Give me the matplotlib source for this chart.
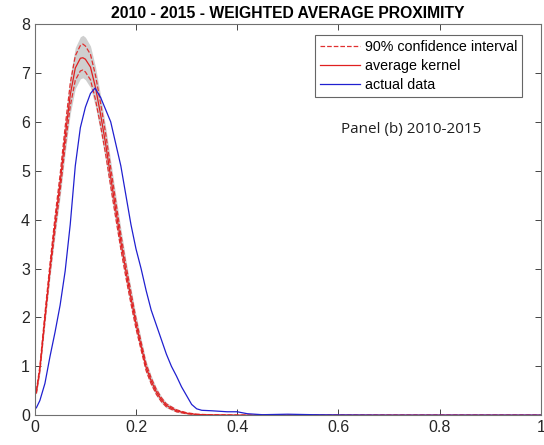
import matplotlib
matplotlib.use("Agg")
import matplotlib.pyplot as plt

plt.rcParams['font.family'] = ['Liberation Sans', 'DejaVu Sans']

# kernel estimate (average of simulated kernels) and its 90% band
kx = [0.003, 0.01, 0.02, 0.03, 0.04, 0.05, 0.06, 0.07, 0.08, 0.09, 0.095, 0.10,
      0.11, 0.12, 0.13, 0.14, 0.15, 0.16, 0.17, 0.18, 0.19, 0.20, 0.21, 0.22,
      0.23, 0.24, 0.25, 0.26, 0.28, 0.30, 0.32, 0.35, 0.40, 0.50, 0.60, 0.70,
      0.80, 0.90, 1.0]
k_mean = [0.47, 0.95, 2.0, 3.0, 3.92, 4.75, 5.7, 6.55, 7.1, 7.3, 7.31, 7.28,
          7.12, 6.7, 6.15, 5.55, 4.87, 4.2, 3.55, 2.95, 2.4, 1.87, 1.42, 0.98,
          0.7, 0.48, 0.32, 0.2, 0.09, 0.04, 0.015, 0.005, 0.0, 0.0, 0.0, 0.0,
          0.0, 0.0, 0.0]
k_upper = [0.5, 1.0, 2.08, 3.1, 4.06, 4.92, 5.9, 6.78, 7.35, 7.56, 7.59, 7.55,
           7.38, 6.95, 6.38, 5.76, 5.06, 4.37, 3.7, 3.08, 2.52, 1.97, 1.5, 1.05,
           0.76, 0.53, 0.36, 0.23, 0.11, 0.05, 0.02, 0.007, 0.0, 0.0, 0.0, 0.0,
           0.0, 0.0, 0.0]
k_lower = [0.44, 0.9, 1.92, 2.9, 3.78, 4.58, 5.5, 6.32, 6.85, 7.04, 7.06, 7.02,
           6.86, 6.45, 5.92, 5.34, 4.68, 4.03, 3.4, 2.82, 2.28, 1.77, 1.34, 0.91,
           0.64, 0.43, 0.28, 0.17, 0.07, 0.03, 0.01, 0.003, 0.0, 0.0, 0.0, 0.0,
           0.0, 0.0, 0.0]
k_gray_hi = [0.52, 1.04, 2.14, 3.18, 4.16, 5.04, 6.04, 6.94, 7.52, 7.74, 7.77, 7.73,
             7.55, 7.12, 6.54, 5.9, 5.2, 4.5, 3.82, 3.18, 2.6, 2.05, 1.57, 1.11,
             0.81, 0.57, 0.39, 0.26, 0.13, 0.06, 0.025, 0.01, 0.0, 0.0, 0.0, 0.0,
             0.0, 0.0, 0.0]
k_gray_lo = [0.42, 0.86, 1.86, 2.82, 3.68, 4.46, 5.36, 6.16, 6.68, 6.88, 6.9, 6.86,
             6.7, 6.3, 5.78, 5.2, 4.55, 3.92, 3.3, 2.73, 2.2, 1.7, 1.28, 0.86,
             0.6, 0.4, 0.25, 0.15, 0.06, 0.02, 0.005, 0.0, 0.0, 0.0, 0.0, 0.0,
             0.0, 0.0, 0.0]

# actual data
dx = [0.003, 0.01, 0.02, 0.03, 0.04, 0.05, 0.06, 0.07, 0.08, 0.09, 0.10, 0.11,
      0.119, 0.13, 0.14, 0.15, 0.16, 0.17, 0.18, 0.19, 0.20, 0.21, 0.22, 0.23,
      0.24, 0.25, 0.26, 0.27, 0.28, 0.29, 0.30, 0.31, 0.32, 0.33, 0.35, 0.38,
      0.40, 0.42, 0.45, 0.50, 0.55, 0.60, 0.70, 0.80, 0.90, 1.0]
dy = [0.15, 0.3, 0.65, 1.2, 1.7, 2.25, 2.95, 3.9, 5.1, 5.88, 6.3, 6.58,
      6.69, 6.5, 6.25, 6.0, 5.55, 5.1, 4.5, 3.9, 3.4, 3.0, 2.55, 2.15,
      1.85, 1.55, 1.25, 1.0, 0.8, 0.58, 0.4, 0.22, 0.13, 0.1, 0.09, 0.07,
      0.07, 0.03, 0.01, 0.02, 0.01, 0.005, 0.0, 0.0, 0.0, 0.0]

fig = plt.figure(figsize=(5.44, 4.45), dpi=100)
ax = fig.add_axes([0.064, 0.067, 0.93, 0.879])

ax.fill_between(kx, k_gray_lo, k_gray_hi, color='#b0b0b0', alpha=0.6, lw=0)
ax.plot(kx, k_upper, color='#e03030', ls='--', lw=0.9, label='90% confidence interval')
ax.plot(kx, k_lower, color='#e03030', ls='--', lw=0.9)
ax.plot(kx, k_mean, color='#e02020', lw=0.9, label='average kernel')
ax.plot(dx, dy, color='#2020d0', lw=0.9, label='actual data')

ax.set_xlim(0, 1)
ax.set_ylim(0, 8)
ax.set_xticks([0, 0.2, 0.4, 0.6, 0.8, 1])
ax.set_xticklabels(['0', '0.2', '0.4', '0.6', '0.8', '1'])
ax.set_yticks(range(0, 9))
ax.tick_params(direction='in', top=True, right=True, labelsize=11.5,
               colors='#262626', length=4, width=0.6)
for s in ax.spines.values():
    s.set_color('#707070')
    s.set_linewidth(0.8)

ax.set_title('2010 - 2015 - WEIGHTED AVERAGE PROXIMITY', fontsize=11.3,
             fontweight='bold', pad=4)
leg = ax.legend(loc='upper right', bbox_to_anchor=(0.963, 0.972), fontsize=10.3,
                frameon=True, fancybox=False, edgecolor='#404040',
                handlelength=2.8, handletextpad=0.3, borderpad=0.35,
                labelspacing=0.35, borderaxespad=0)
leg.get_frame().set_linewidth(0.8)
ax.text(0.605, 0.73, 'Panel (b) 2010-2015', transform=ax.transAxes,
        fontsize=11, family=['Open Sans', 'DejaVu Sans'], color='#202020',
        va='center')

fig.savefig('out.png', dpi=100)
